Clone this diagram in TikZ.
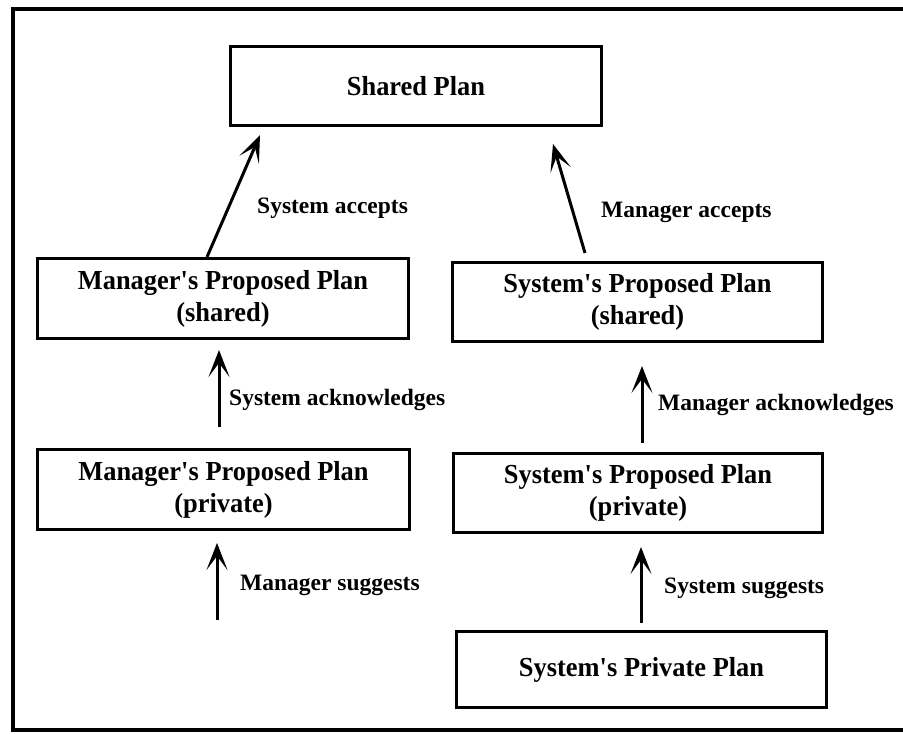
\documentclass[tikz,border=0pt]{standalone}
\usepackage{fontspec}
\setmainfont{Liberation Serif}
\newfontfamily\boxfont{Liberation Serif}[FakeStretch=0.96]
\usetikzlibrary{arrows.meta}
\begin{document}
\begin{tikzpicture}[x=1pt,y=-1pt,
  box/.style={draw,line width=3pt,inner sep=0pt,align=center,
    font=\boxfont\fontsize{27.5}{32}\selectfont\bfseries},
  lbl/.style={anchor=west,inner sep=0pt,font=\fontsize{23.5}{26}\selectfont\bfseries},
  arr/.style={line width=3pt,-{Stealth[length=27pt,width=21pt,inset=14pt]}}]
\useasboundingbox (0,0) rectangle (903,734);
\draw[line width=3.5pt] (903,9) -- (13,9) -- (13,730) -- (903,730);

\node[box,minimum width=371pt,minimum height=79pt] (shared) at (416,86) {Shared Plan};
\node[box,minimum width=371pt,minimum height=80pt] (mshared) at (223,298.5) {Manager\textquotesingle s Proposed Plan\\(shared)};
\node[box,minimum width=370pt,minimum height=79pt] (sshared) at (637.5,302) {System\textquotesingle s Proposed Plan\\(shared)};
\node[box,minimum width=372pt,minimum height=80pt] (mpriv) at (223.5,489.5) {Manager\textquotesingle s Proposed Plan\\(private)};
\node[box,minimum width=369pt,minimum height=79pt] (spriv) at (638,493) {System\textquotesingle s Proposed Plan\\(private)};
\node[box,minimum width=370pt,minimum height=76pt] (sprivate) at (641.5,669.5) {\raisebox{5pt}{System\textquotesingle s Private Plan}};

\coordinate (a1s) at (207,257);  \coordinate (a1e) at (260,135);
\coordinate (a2s) at (585,253);  \coordinate (a2e) at (553,144);
\coordinate (a3s) at (219,427);  \coordinate (a3e) at (219,350);
\coordinate (a4s) at (642,443);  \coordinate (a4e) at (642,366);
\coordinate (a5s) at (217,620);  \coordinate (a5e) at (217,543);
\coordinate (a6s) at (641,623);  \coordinate (a6e) at (641,547);

\draw[arr] (a1s) -- (a1e);
\draw[arr] (a2s) -- (a2e);
\draw[arr] (a3s) -- (a3e);
\draw[arr] (a4s) -- (a4e);
\draw[arr] (a5s) -- (a5e);
\draw[arr] (a6s) -- (a6e);

\node[lbl] (l1) at (257,208) {System accepts};
\node[lbl] (l2) at (601,212) {Manager accepts};
\node[lbl] (l3) at (229,400) {System acknowledges};
\node[lbl] (l4) at (658,405) {Manager acknowledges};
\node[lbl] (l5) at (240,585) {Manager suggests};
\node[lbl] (l6) at (664,588) {System suggests};
\end{tikzpicture}
\end{document}
